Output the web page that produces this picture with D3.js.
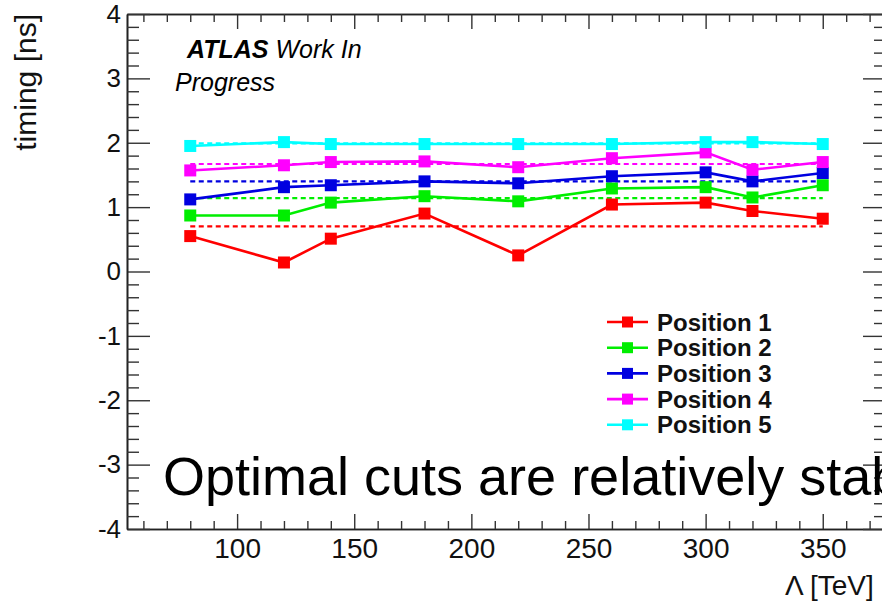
<!DOCTYPE html>
<html>
<head>
<meta charset="utf-8">
<script src="https://cdn.jsdelivr.net/npm/d3@7"></script>
<style>
  body { margin: 0; background: #fff; }
  svg { display: block; font-family: "Liberation Sans", Arial, Helvetica, sans-serif; }
</style>
</head>
<body>
<svg width="882" height="605"></svg>
<script>
// data
const lambdaTeV = [80, 120, 140, 180, 220, 260, 300, 320, 350];
const position1 = [0.55, 0.14, 0.51, 0.90, 0.25, 1.04, 1.07, 0.94, 0.82];
const position2 = [0.87, 0.87, 1.07, 1.17, 1.09, 1.29, 1.31, 1.15, 1.34];
const position3 = [1.12, 1.31, 1.34, 1.40, 1.37, 1.48, 1.54, 1.40, 1.53];
const position4 = [1.57, 1.65, 1.70, 1.71, 1.62, 1.76, 1.85, 1.58, 1.70];
const position5 = [1.95, 2.01, 1.98, 1.98, 1.98, 1.98, 2.01, 2.01, 1.98];
const cutLevels = [0.70, 1.14, 1.40, 1.67, 1.99];
const seriesNames = ["Position 1", "Position 2", "Position 3", "Position 4", "Position 5"];
const xTickLabels = [100, 150, 200, 250, 300, 350];
const yTickLabels = [-4, -3, -2, -1, 0, 1, 2, 3, 4];

const colors = ["#ff0000", "#00ee00", "#0000e0", "#ff00ff", "#00ffff"];

const svg = d3.select("svg"),
      width = +svg.attr("width"),
      height = +svg.attr("height"),
      margin = { top: 14, right: -4, bottom: 76, left: 127 };

const chartWidth = width - margin.left - margin.right;
const chartHeight = height - margin.top - margin.bottom;

const g = svg.append("g")
  .attr("transform", `translate(${margin.left},${margin.top})`);

const x = d3.scaleLinear().domain([53, 377]).range([0, chartWidth]);
const y = d3.scaleLinear().domain([-4, 4]).range([chartHeight, 0]);

const xMinor = d3.range(60, 377, 10).filter(v => v % 50 !== 0);
const yMinor = d3.range(-40, 41, 2).map(v => v / 10).filter(v => !Number.isInteger(v));

// Axes (ROOT style: ticks inside the frame)
function styleAxis(sel, fontSize) {
  sel.attr("font-family", null).attr("font-size", null);
  sel.select(".domain").attr("stroke", "#222").attr("stroke-width", 1.6);
  sel.selectAll(".tick line").attr("stroke", "#333").attr("stroke-width", 1.4);
  sel.selectAll(".tick text").attr("fill", "#111").style("font-size", fontSize + "px");
}

g.append("g")
  .attr("transform", `translate(0,${chartHeight})`)
  .call(d3.axisBottom(x).tickValues(xTickLabels).tickSizeInner(-15).tickSizeOuter(0)
    .tickPadding(9).tickFormat(d => String(d)))
  .call(s => styleAxis(s, 28));
g.append("g")
  .attr("transform", `translate(0,${chartHeight})`)
  .call(d3.axisBottom(x).tickValues(xMinor).tickSizeInner(-8).tickSizeOuter(0).tickFormat(() => ""))
  .call(s => styleAxis(s, 0));

g.append("g")
  .call(d3.axisTop(x).tickValues(xTickLabels).tickSizeInner(-15).tickSizeOuter(0).tickFormat(() => ""))
  .call(s => styleAxis(s, 0));
g.append("g")
  .call(d3.axisTop(x).tickValues(xMinor).tickSizeInner(-8).tickSizeOuter(0).tickFormat(() => ""))
  .call(s => styleAxis(s, 0));

g.append("g")
  .call(d3.axisLeft(y).tickValues(yTickLabels).tickSizeInner(-23).tickSizeOuter(0)
    .tickPadding(6).tickFormat(d => String(d)))
  .call(s => styleAxis(s, 26));
g.append("g")
  .call(d3.axisLeft(y).tickValues(yMinor).tickSizeInner(-12).tickSizeOuter(0).tickFormat(() => ""))
  .call(s => styleAxis(s, 0));

g.append("g")
  .attr("transform", `translate(${chartWidth},0)`)
  .call(d3.axisRight(y).tickValues(yTickLabels).tickSizeInner(-23).tickSizeOuter(0).tickFormat(() => ""))
  .call(s => styleAxis(s, 0));
g.append("g")
  .attr("transform", `translate(${chartWidth},0)`)
  .call(d3.axisRight(y).tickValues(yMinor).tickSizeInner(-12).tickSizeOuter(0).tickFormat(() => ""))
  .call(s => styleAxis(s, 0));

// Axis titles
svg.append("text")
  .attr("transform", "translate(36,14) rotate(-90)")
  .attr("text-anchor", "end")
  .style("font-size", "30px")
  .attr("fill", "#111")
  .text("timing [ns]");

svg.append("text")
  .attr("x", 785).attr("y", 595)
  .style("font-size", "28px")
  .attr("fill", "#111")
  .text("Λ [TeV]");

// Dashed optimal-cut levels
const xExtent = d3.extent(lambdaTeV);
cutLevels.forEach((c, i) => {
  g.append("line")
    .attr("x1", x(xExtent[0])).attr("x2", x(xExtent[1]))
    .attr("y1", y(c)).attr("y2", y(c))
    .attr("stroke", colors[i])
    .attr("stroke-width", 2.2)
    .attr("stroke-dasharray", "5,3.5");
});

// Series
const series = [position1, position2, position3, position4, position5];
const line = d3.line()
  .x((d, i) => x(lambdaTeV[i]))
  .y(d => y(d));

series.forEach((vals, i) => {
  g.append("path")
    .datum(vals)
    .attr("fill", "none")
    .attr("stroke", colors[i])
    .attr("stroke-width", 2.6)
    .attr("d", line);

  g.selectAll(null)
    .data(vals)
    .enter()
    .append("rect")
    .attr("x", (d, j) => x(lambdaTeV[j]) - 6)
    .attr("y", d => y(d) - 6)
    .attr("width", 12)
    .attr("height", 12)
    .attr("fill", colors[i]);
});

// Labels
const atlas = svg.append("text")
  .attr("x", 187).attr("y", 58)
  .style("font-size", "25px")
  .style("font-style", "italic")
  .attr("fill", "#000");
atlas.append("tspan").style("font-weight", "bold").text("ATLAS");
atlas.append("tspan").text(" Work In");

svg.append("text")
  .attr("x", 175).attr("y", 91)
  .style("font-size", "25px")
  .style("font-style", "italic")
  .attr("fill", "#000")
  .text("Progress");

svg.append("text")
  .attr("x", 163).attr("y", 495)
  .style("font-size", "54px")
  .attr("fill", "#000")
  .text("Optimal cuts are relatively stable");

// Legend
const legend = svg.append("g");
seriesNames.forEach((name, i) => {
  const ly = 322 + i * 25.7;
  legend.append("line")
    .attr("x1", 607).attr("x2", 648)
    .attr("y1", ly).attr("y2", ly)
    .attr("stroke", colors[i])
    .attr("stroke-width", 2.6);
  legend.append("rect")
    .attr("x", 622).attr("y", ly - 5.5)
    .attr("width", 11).attr("height", 11)
    .attr("fill", colors[i]);
  legend.append("text")
    .attr("x", 657).attr("y", ly)
    .attr("dy", "0.36em")
    .style("font-size", "24px")
    .style("font-weight", "bold")
    .attr("fill", "#111")
    .text(name);
});
</script>
</body>
</html>
